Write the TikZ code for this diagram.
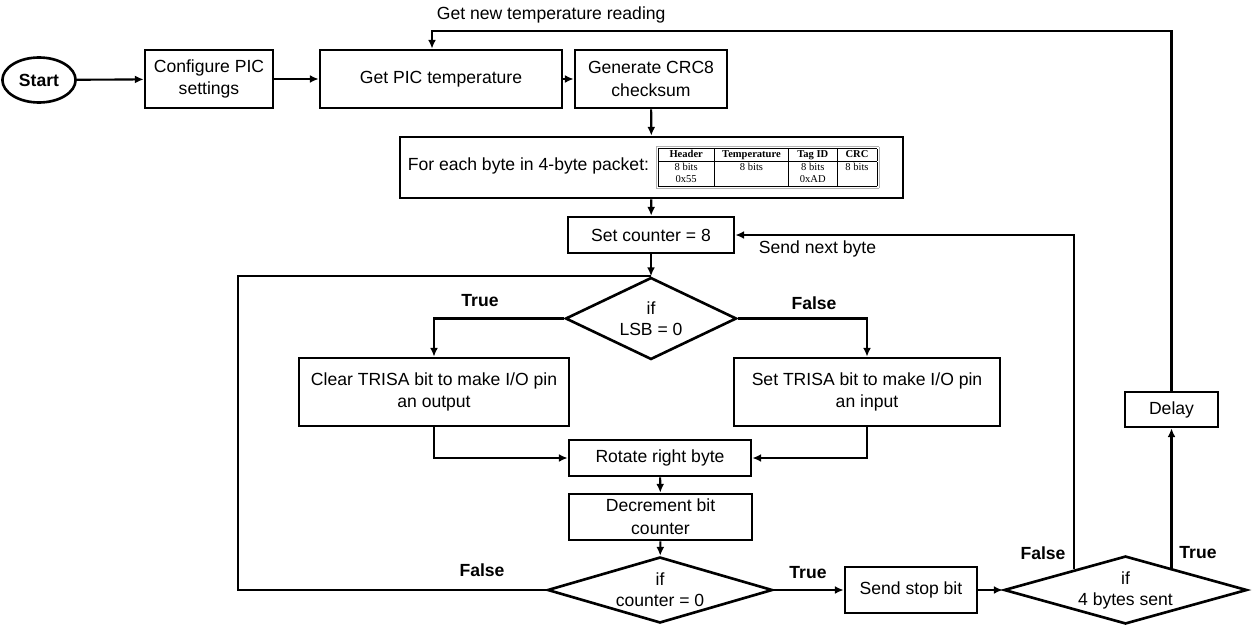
\documentclass[tikz,border=0pt]{standalone}
\usepackage{fontspec}
\setmainfont{Liberation Sans}
\newfontfamily\tblfont{Liberation Serif}
\usepackage{array}
\usetikzlibrary{shapes.geometric,arrows.meta}

\newcolumntype{C}[1]{>{\centering\arraybackslash}p{#1}}
\newcommand{\pkttable}{%
  {\tblfont\fontsize{6}{7}\selectfont
   \setlength{\tabcolsep}{2pt}\setlength{\fboxsep}{0.6pt}%
   \fcolorbox{black!30}{white}{%
   \begin{tabular}{|C{27.5pt}|C{38pt}|C{23pt}|C{18.5pt}|}
   \hline
   \textbf{Header} & \textbf{Temperature} & \textbf{Tag ID} & \textbf{CRC}\\ \hline
   8 bits & 8 bits & 8 bits & 8 bits\\
   0x55 & & 0xAD & \\ \hline
   \end{tabular}}}}

\begin{document}
\begin{tikzpicture}[>={Latex[length=5pt,width=4.5pt]}, line width=1.2pt,
	box/.style={draw, line width=1.5pt, rectangle, align=center, inner sep=2pt, font=\fontsize{10}{13}\selectfont},
	dec/.style={draw, line width=1.5pt, diamond, align=center, inner sep=0pt},
	lbl/.style={font=\bfseries}]
		\useasboundingbox (0,0) rectangle (25.06,-12.5);
		
		% top row
		\node[draw, ellipse, line width=1.5pt, minimum width=1.44cm, minimum height=0.9cm, font=\bfseries] (start) at (0.78,-1.6) {Start};
		\node[box, minimum width=2.56cm, minimum height=1.16cm] (config) at (4.18,-1.58) {Configure PIC\\settings};
		\node[box, minimum width=4.84cm, minimum height=1.16cm] (gettemp) at (8.82,-1.58) {Get PIC temperature};
		\node[box, minimum width=3.04cm, minimum height=1.16cm] (crc) at (13.02,-1.58) {Generate CRC8\\checksum};
		\node[box, minimum width=10.06cm, minimum height=1.22cm] (packet) at (13.03,-3.35) {For each byte in 4-byte packet:\hspace{0.14cm}\pkttable\hspace{0.32cm}};
		\node[box, minimum width=3.32cm, minimum height=0.72cm] (setcnt) at (13.02,-4.7) {Set counter = 8};
		
		% bit loop
		\node[dec, shape aspect=2.1, minimum width=3.42cm, minimum height=1.64cm] (lsb) at (13.02,-6.37) {if\\LSB = 0};
		\node[box, minimum width=5.4cm, minimum height=1.36cm] (clear) at (8.68,-7.84) {Clear TRISA bit to make I/O pin\\an output};
		\node[box, minimum width=5.32cm, minimum height=1.36cm] (settrisa) at (17.34,-7.84) {Set TRISA bit to make I/O pin\\an input};
		\node[box, minimum width=3.64cm, minimum height=0.72cm] (rotate) at (13.2,-9.16) {Rotate right byte};
		\node[box, minimum width=3.66cm, minimum height=0.92cm] (decr) at (13.21,-10.34) {Decrement bit\\counter};
		\node[dec, shape aspect=3.4, minimum width=4.5cm, minimum height=1.32cm] (cntdec) at (13.2,-11.8) {if\\counter = 0};
		\node[box, minimum width=2.64cm, minimum height=0.92cm] (stopbit) at (18.22,-11.8) {Send stop bit};
		\node[dec, shape aspect=3.6, minimum width=4.86cm, minimum height=1.36cm] (bytesdec) at (22.51,-11.8) {if\\4 bytes sent};
		\node[box, minimum width=1.86cm, minimum height=0.7cm] (delay) at (23.43,-8.19) {Delay};
		
		\coordinate (loopx) at (4.76,0);
		\coordinate (topy) at (8.64,-0.62);
		
		\draw[->] (start) -- (config);
		\draw[->] (config) -- (gettemp);
		\draw[->] (gettemp) -- (crc);
		\draw[->] (crc) -- (packet);
		\draw[->] (packet) -- (setcnt);
		\draw[->] (setcnt) -- (lsb);
		\draw[->] (lsb.west) -| (clear.north);
		\draw[->] (lsb.east) -| (settrisa.north);
		\draw[->] (clear.south) |- (rotate.west);
		\draw[->] (settrisa.south) |- (rotate.east);
		\draw[->] (rotate) -- (decr);
		\draw[->] (decr) -- (cntdec);
		\draw (cntdec.west) -- (cntdec.west -| loopx) |- (lsb.north);
		\draw[->] (cntdec) -- (stopbit);
		\draw[->] (stopbit) -- (bytesdec);
		\draw[->] (bytesdec.158) |- (setcnt.east);
		\draw[->] (delay.south |- bytesdec.25) -- (delay.south);
		\draw[->] (delay.north) |- (topy) -- (topy |- gettemp.north);
		
		% labels
		\node[lbl] (ltrue1) at (9.6,-6.02) {True};
		\node[lbl] (lfalse1) at (16.28,-6.06) {False};
		\node[lbl] (lfalse2) at (9.64,-11.4) {False};
		\node[lbl] (ltrue2) at (16.16,-11.46) {True};
		\node[lbl] (lfalse3) at (20.86,-11.06) {False};
		\node[lbl] (ltrue3) at (23.96,-11.06) {True};
		\node[anchor=west] (lnext) at (15.04,-4.98) {Send next byte};
		\node[anchor=west] (lnew) at (8.6,-0.3) {Get new temperature reading};
\end{tikzpicture}
\end{document}
